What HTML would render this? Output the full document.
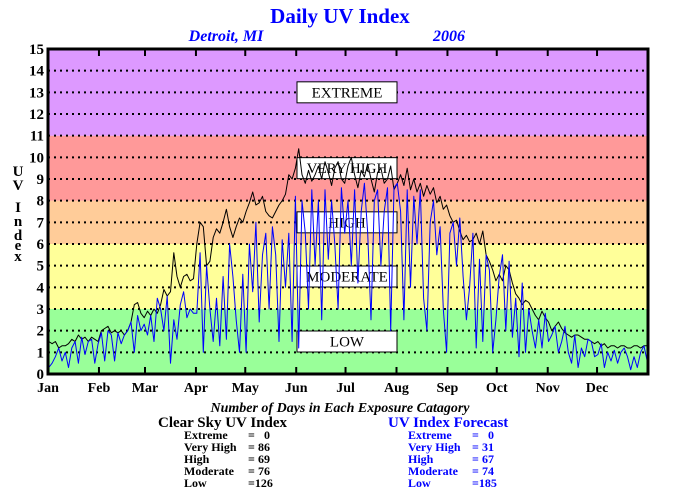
<!DOCTYPE html>
<html><head><meta charset="utf-8"><style>
body{margin:0;background:#fff}
svg{display:block;font-family:"Liberation Serif",serif;font-weight:bold}
</style></head><body>
<svg id="chart" width="680" height="500">
<text x="340" y="23" text-anchor="middle" font-size="21" fill="#0000ff">Daily UV Index</text>
<text x="226" y="41" text-anchor="middle" font-size="16" fill="#0000ff" font-style="italic">Detroit, MI</text>
<text x="449" y="41" text-anchor="middle" font-size="16" fill="#0000ff" font-style="italic">2006</text>
<g id="bands"></g>
<g id="grid"></g>
<g id="boxes"></g>
<g id="series"></g>
<rect x="48" y="49" width="600" height="325" fill="none" stroke="#000" stroke-width="3"/>
<g id="yticks"></g>
<g id="xticks"></g>
<g font-size="15" text-anchor="middle">
<text x="18" y="176">U</text><text x="18" y="190">V</text><text x="18" y="212">I</text><text x="18" y="226">n</text><text x="18" y="240">d</text><text x="18" y="250">e</text><text x="18" y="261">x</text>
</g>
<text x="340" y="412" text-anchor="middle" font-size="14" font-style="italic">Number of Days in Each Exposure Catagory</text>
<g>
<text x="158" y="427" font-size="15">Clear Sky UV Index</text>
<g font-size="12"><text x="184" y="439">Extreme</text><text x="248" y="439">=</text><text x="270" y="439" text-anchor="end">0</text>
<text x="184" y="451">Very High</text><text x="248" y="451">=</text><text x="270" y="451" text-anchor="end">86</text>
<text x="184" y="463">High</text><text x="248" y="463">=</text><text x="270" y="463" text-anchor="end">69</text>
<text x="184" y="475">Moderate</text><text x="248" y="475">=</text><text x="270" y="475" text-anchor="end">76</text>
<text x="184" y="487">Low</text><text x="248" y="487">=126</text></g></g>
<g fill="#0000ff">
<text x="388" y="427" font-size="15">UV Index Forecast</text>
<g font-size="12"><text x="408" y="439">Extreme</text><text x="472" y="439">=</text><text x="494" y="439" text-anchor="end">0</text>
<text x="408" y="451">Very High</text><text x="472" y="451">=</text><text x="494" y="451" text-anchor="end">31</text>
<text x="408" y="463">High</text><text x="472" y="463">=</text><text x="494" y="463" text-anchor="end">67</text>
<text x="408" y="475">Moderate</text><text x="472" y="475">=</text><text x="494" y="475" text-anchor="end">74</text>
<text x="408" y="487">Low</text><text x="472" y="487">=185</text></g></g>
</svg>
<script>
const months=["Jan","Feb","Mar","Apr","May","Jun","Jul","Aug","Sep","Oct","Nov","Dec"];
const monthStartDays=[0,31,59,90,120,151,181,212,243,273,304,334];
const yTicks=[0,1,2,3,4,5,6,7,8,9,10,11,12,13,14,15];
const bandLimits=[0,3,6,8,11,15];
const bandColors=["#99ff99","#ffff99","#ffcc99","#ff9999","#dd99ff"];
const categoryLabels=["LOW","MODERATE","HIGH","VERY HIGH","EXTREME"];
const categoryLevels=[1.5,4.5,7,9.5,13];
const dayStep=2;
const clearSky=[1.5,1.4,1.5,1.2,1.3,1.3,1.4,1.6,1.5,1.8,1.6,1.7,1.5,1.7,1.6,1.5,
2.0,2.1,2.2,1.9,2.0,1.9,2.0,1.8,2.0,2.4,3.2,3.3,2.8,2.6,
2.9,2.7,3.0,2.8,3.2,3.9,3.6,3.8,5.6,4.5,4.0,4.5,4.6,4.3,4.4,
6.0,7.0,6.8,5.0,5.2,6.3,6.7,6.5,7.0,7.6,6.8,6.3,6.8,7.2,7.0,
7.5,7.9,8.4,7.8,7.9,8.2,7.5,7.3,7.2,7.5,7.8,8.0,8.3,9.2,9.0,9.5,
10.4,9.2,8.8,9.4,8.9,9.2,9.6,9.0,9.8,9.3,8.7,9.5,9.8,9.0,8.8,
9.6,10.0,9.2,8.6,9.4,9.1,9.7,9.0,8.4,9.3,9.5,8.8,9.0,9.6,8.5,8.8,
9.2,8.7,9.5,8.5,9.0,8.4,8.8,8.2,8.7,8.3,8.6,7.9,8.2,7.6,7.8,
7.3,7.0,7.1,6.6,6.2,6.4,6.1,6.2,6.5,6.0,6.6,5.5,5.2,4.8,4.3,
4.6,4.3,5.0,4.8,4.2,3.7,3.5,3.2,3.4,3.3,3.0,2.7,2.5,2.9,2.6,2.4,
2.0,2.2,2.4,2.1,1.9,1.8,1.7,1.8,1.8,1.7,1.6,1.6,1.5,1.4,1.5,
1.3,1.4,1.2,1.3,1.3,1.2,1.3,1.3,1.2,1.2,1.3,1.3,1.2,1.3,1.3];
const forecast=[0.3,0.5,0.8,1.2,0.6,1.0,0.3,1.2,1.5,0.5,1.7,0.9,1.5,1.6,0.5,1.4,
1.9,0.6,2.0,1.8,0.6,1.9,1.4,1.8,2.0,2.4,1.0,2.7,2.0,2.3,
1.8,2.7,1.5,3.5,3.0,2.0,3.6,0.5,2.5,1.6,3.2,3.8,2.6,3.0,2.8,
2.8,5.6,1.0,5.0,3.0,1.5,3.5,1.3,4.5,1.6,6.0,4.5,2.5,1.0,4.6,
1.0,6.0,3.8,7.0,2.4,5.5,6.5,3.0,6.8,5.5,1.5,6.2,4.0,6.5,1.5,8.2,
1.2,8.0,6.5,3.0,8.5,5.0,8.0,2.5,8.5,5.3,8.0,6.0,3.0,8.6,6.5,
8.0,5.0,8.5,4.2,7.5,8.8,6.5,2.5,8.0,8.5,5.0,7.5,8.6,2.0,8.6,8.8,
7.5,2.5,8.5,4.0,8.2,6.0,8.5,3.5,2.0,7.0,8.0,5.5,6.8,3.0,1.0,
6.5,7.0,5.0,7.2,4.5,2.5,4.0,6.5,1.2,5.3,1.5,5.5,4.8,1.0,2.5,
4.5,5.5,2.0,5.2,1.7,3.5,0.8,4.2,1.0,3.0,2.0,1.2,2.5,1.2,2.8,1.5,
1.8,2.2,1.0,1.5,2.2,1.0,0.5,1.8,0.3,1.2,0.8,1.6,1.5,0.8,0.9,
1.4,0.3,1.0,0.6,1.1,0.5,1.0,1.2,0.8,0.2,0.8,0.3,1.0,1.3,0.6];

const NS="http://www.w3.org/2000/svg";
const X0=48,X1=648,Y0=374,Y1=49;
function xs(d){return X0+(X1-X0)*d/365;}
function ys(v){return Y0-(Y0-Y1)*v/15;}
function mk(tag,attrs,parent){const e=document.createElementNS(NS,tag);for(const k in attrs)e.setAttribute(k,attrs[k]);document.getElementById(parent).appendChild(e);return e;}

for(let i=0;i<bandColors.length;i++){
  const r=mk("rect",{x:X0,y:ys(bandLimits[i+1]),width:X1-X0,height:ys(bandLimits[i])-ys(bandLimits[i+1]),fill:bandColors[i]},"bands");
  
  
}
for(const t of yTicks){
  if(t>0&&t<15){
    const g=mk("line",{x1:X0,x2:X1,y1:ys(t),y2:ys(t),stroke:"#000","stroke-width":2,"stroke-dasharray":"2 4"},"grid");
    
    
  }
  const l=mk("text",{x:44,y:ys(t)+5,"text-anchor":"end","font-size":15},"yticks");
  l.textContent=t;
  
  
}
for(let i=0;i<months.length;i++){
  const x=xs(monthStartDays[i]);
  const tk=mk("line",{x1:x,x2:x,y1:Y0,y2:Y0-7,stroke:"#000","stroke-width":2},"xticks");
  
  
  const tk2=mk("line",{x1:x,x2:x,y1:Y1,y2:Y1+7,stroke:"#000","stroke-width":2},"xticks");
  
  
  const l=mk("text",{x:x,y:392,"text-anchor":"middle","font-size":14},"xticks");
  l.textContent=months[i];
  
  
}
for(let i=0;i<categoryLabels.length;i++){
  const cy=ys(categoryLevels[i]);
  const b=mk("rect",{x:297,y:cy-10.5,width:100,height:21,fill:"#fff",stroke:"#000","stroke-width":1},"boxes");
  
  
  const t=mk("text",{x:347,y:cy+5,"text-anchor":"middle","font-size":15,"font-weight":"normal"},"boxes");
  t.textContent=categoryLabels[i];
  
  
}
function line(arr,color,w,name){
  const pts=arr.map((v,i)=>xs(i*dayStep+0.5).toFixed(1)+","+ys(v).toFixed(1)).join(" ");
  const p=mk("polyline",{points:pts,fill:"none",stroke:color,"stroke-width":w,"stroke-linejoin":"round"},"series");
  
  
}
line(clearSky,"#000",1,"clear-sky-line");
line(forecast,"#0000ff",1,"forecast-line");
</script>
</body></html>
